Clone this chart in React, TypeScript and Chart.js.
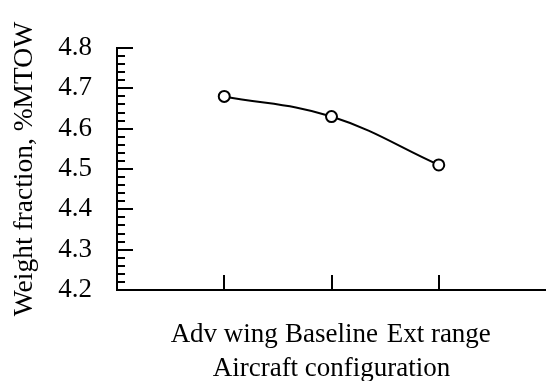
import React, { useEffect, useRef } from "react";
import { Chart, registerables } from "chart.js";

Chart.register(...registerables);

const categories: string[] = ["Adv wing", "Baseline", "Ext range"];
const categoryPositions: number[] = [1, 2, 3];
const weightFraction: number[] = [4.68, 4.63, 4.51];
const yMin = 4.2;
const yMax = 4.8;
const yMajorStep = 0.1;
const yMinorStep = 0.02;

const FONT = "'Liberation Serif', 'Times New Roman', serif";

const innerTicks = {
  id: "innerTicks",
  afterDraw(chart: any) {
    const ctx = chart.ctx;
    const y = chart.scales.y;
    const x = chart.scales.x;
    ctx.save();
    ctx.strokeStyle = "#000";
    ctx.lineWidth = 2;
    ctx.beginPath();
    for (const t of y.ticks) {
      const v = t.value;
      const isMajor = Math.abs(v / yMajorStep - Math.round(v / yMajorStep)) < 1e-6;
      const py = Math.round(y.getPixelForValue(v));
      const len = isMajor ? 16 : 8;
      ctx.moveTo(chart.chartArea.left, py);
      ctx.lineTo(chart.chartArea.left + len, py);
    }
    for (const t of x.ticks) {
      if (!categories[t.value - 1]) continue;
      const px = Math.round(x.getPixelForValue(t.value));
      ctx.moveTo(px, chart.chartArea.bottom);
      ctx.lineTo(px, chart.chartArea.bottom - 15);
    }
    ctx.stroke();
    ctx.restore();
  },
};

export default function App() {
  const ref = useRef<HTMLCanvasElement | null>(null);
  useEffect(() => {
    document.body.style.margin = "0";
    const canvas = ref.current;
    if (!canvas) return;
    const chart = new Chart(canvas, {
      type: "line",
      data: {
        datasets: [
          {
            data: categoryPositions.map((p, i) => ({ x: p, y: weightFraction[i] })),
            borderColor: "#000",
            borderWidth: 2,
            tension: 0.4,
            pointRadius: 5.5,
            pointBorderWidth: 2,
            pointBackgroundColor: "#fff",
            pointBorderColor: "#000",
            clip: false as any,
          },
        ],
      },
      options: {
        animation: false,
        responsive: false,
        events: [],
        layout: { autoPadding: false, padding: { top: 48, right: 0, bottom: 0, left: 0 } },
        plugins: { legend: { display: false }, tooltip: { enabled: false } },
        scales: {
          x: {
            type: "linear",
            min: 0,
            max: categories.length + 1,
            grid: { display: false, drawTicks: false },
            border: { display: true, color: "#000", width: 2 },
            ticks: {
              stepSize: 1,
              autoSkip: false,
              maxRotation: 0,
              padding: 29,
              color: "#000",
              font: { family: FONT, size: 27 },
              callback: (v: any) => categories[Number(v) - 1] ?? "",
            },
            title: {
              display: true,
              text: "Aircraft configuration",
              color: "#000",
              font: { family: FONT, size: 27 },
              padding: { top: 0, bottom: -4 },
            },
            afterFit: (s: any) => {
              s.height = 91;
              s.paddingLeft = 0;
              s.paddingRight = 0;
            },
          },
          y: {
            type: "linear",
            min: yMin,
            max: yMax,
            grid: { display: false, drawTicks: false },
            border: { display: true, color: "#000", width: 2 },
            ticks: {
              stepSize: yMinorStep,
              autoSkip: false,
              maxTicksLimit: 100,
              padding: 25,
              color: "#000",
              font: { family: FONT, size: 27 },
              callback: (v: any) => {
                const n = Number(v);
                return Math.abs(n / yMajorStep - Math.round(n / yMajorStep)) < 1e-6 ? n.toFixed(1) : "";
              },
            },
            title: {
              display: true,
              text: "Weight fraction, %MTOW",
              color: "#000",
              font: { family: FONT, size: 27.5 },
              padding: { top: 8, bottom: 0 },
            },
            afterFit: (s: any) => {
              s.width = 117;
            },
          },
        },
      },
      plugins: [innerTicks],
    });
    return () => chart.destroy();
  }, []);
  return (
    <div style={{ position: "absolute", left: 0, top: 0, width: 546, height: 381 }}>
      <canvas ref={ref} width={546} height={381} />
    </div>
  );
}
